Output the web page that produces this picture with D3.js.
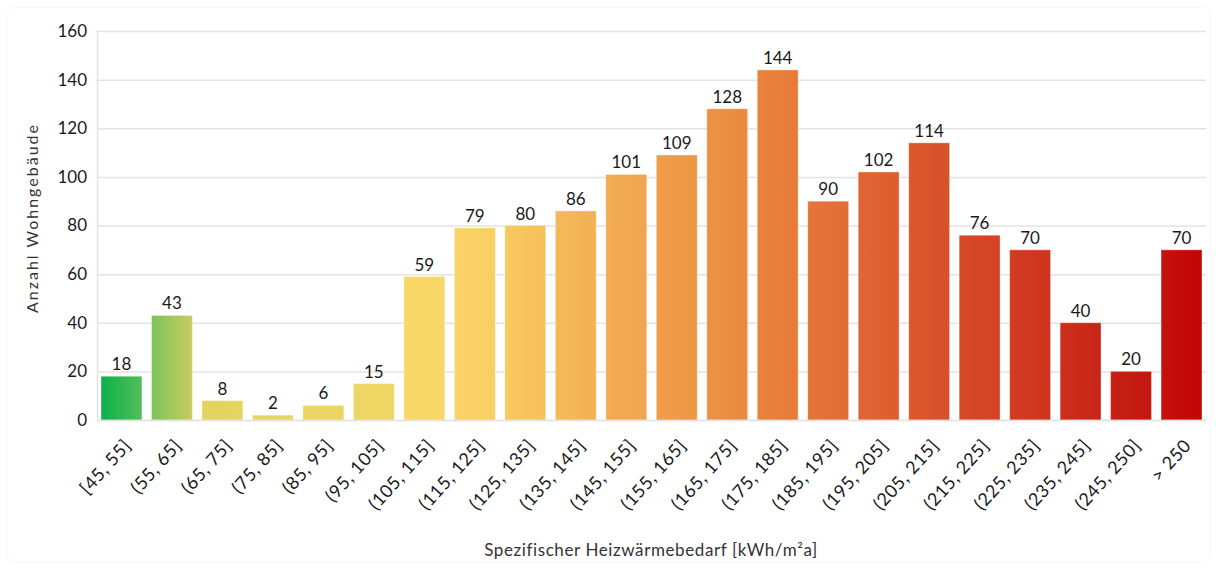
<!DOCTYPE html>
<html><head><meta charset="utf-8">
<script src="https://cdn.jsdelivr.net/npm/d3@7"></script>
<style>
html,body{margin:0;padding:0;background:#fff;}
text{font-family:Lato, "Open Sans", sans-serif;}
</style></head>
<body>
<svg id="chart" width="1216" height="569"></svg>
<script>
const categories = ["[45, 55]","(55, 65]","(65, 75]","(75, 85]","(85, 95]","(95, 105]","(105, 115]","(115, 125]","(125, 135]","(135, 145]","(145, 155]","(155, 165]","(165, 175]","(175, 185]","(185, 195]","(195, 205]","(205, 215]","(215, 225]","(225, 235]","(235, 245]","(245, 250]","> 250"];
const values = [18,43,8,2,6,15,59,79,80,86,101,109,128,144,90,102,114,76,70,40,20,70];
const colorLeft  = ["#0bb14a","#7dc45a","#e2d460","#e5d462","#e9d564","#eed664","#f8d866","#f9d466","#f8c860","#f4b95a","#f2ac52","#ef9e4a","#ec9244","#e9823d","#e47539","#e06534","#dc572d","#d74928","#d23c22","#cc2e1c","#c72014","#c5120c"];
const colorRight = ["#52be5a","#c8cc60","#e4d461","#e7d563","#ebd565","#f1d665","#f9d767","#f9cd63","#f7c05c","#f2b156","#f0a44e","#ed9646","#ea8940","#e77a3a","#e16d36","#dd5e30","#d7502a","#d34325","#cd341f","#c82618","#c31810","#c00507"];
const yTicks = [0,20,40,60,80,100,120,140,160];

const svg = d3.select("#chart");
// faint outer frame
svg.append("rect").attr("x",7.5).attr("y",7.5).attr("width",1203).attr("height",555)
  .attr("rx",6).attr("fill","none").attr("stroke","#f8f8f8").attr("stroke-width",1);

const x = d3.scaleBand().domain(categories).range([97,1206]).paddingInner(0.19).paddingOuter(0.08);
const y = d3.scaleLinear().domain([0,160]).range([420,31]);

const defs = svg.append("defs");
categories.forEach((c,i)=>{
  const g = defs.append("linearGradient").attr("id","g"+i).attr("x1","0%").attr("x2","100%").attr("y1","0%").attr("y2","0%");
  g.append("stop").attr("offset","0%").attr("stop-color",colorLeft[i]);
  g.append("stop").attr("offset","100%").attr("stop-color",colorRight[i]);
});

// gridlines
svg.append("g").selectAll("line").data(yTicks).join("line")
  .attr("x1",97).attr("x2",1206).attr("y1",d=>y(d)+0.5).attr("y2",d=>y(d)+0.5)
  .attr("stroke","#e3e3e3").attr("stroke-width",1.5);
// y axis line
svg.append("line").attr("x1",97.5).attr("x2",97.5).attr("y1",y(160)).attr("y2",y(0)).attr("stroke","#e3e3e3").attr("stroke-width",1.5);

// y tick labels
const yAxis = d3.axisLeft(y).tickValues(yTicks).tickSize(0).tickPadding(10);
const ya = svg.append("g").attr("transform","translate(97,0)").call(yAxis);
ya.select(".domain").remove();
ya.selectAll("text").attr("font-size",17).attr("fill","#1a1a1a").style("font-family","Lato, sans-serif");

// bars
svg.append("g").selectAll("rect").data(values).join("rect")
  .attr("x",(d,i)=>x(categories[i])).attr("width",x.bandwidth())
  .attr("y",d=>y(d)).attr("height",d=>y(0)-y(d))
  .attr("fill",(d,i)=>`url(#g${i})`)
  .attr("stroke","rgba(255,255,255,0.35)").attr("stroke-width",1);

// value labels
svg.append("g").selectAll("text").data(values).join("text")
  .attr("x",(d,i)=>x(categories[i])+x.bandwidth()/2).attr("y",d=>y(d)-6)
  .attr("text-anchor","middle").attr("font-size",17).attr("fill","#1a1a1a").text(d=>d);

// x axis
const xAxis = d3.axisBottom(x).tickSize(0).tickPadding(0);
const xa = svg.append("g").attr("transform","translate(0,420)").call(xAxis);
xa.select(".domain").attr("stroke","#e3e3e3").attr("stroke-width",1.5);
xa.selectAll("text").attr("font-size",18).attr("fill","#1a1a1a").style("letter-spacing","0.6px")
  .attr("text-anchor","end").attr("dy","0.35em")
  .attr("transform","translate(6,22) rotate(-48)").attr("y",0).attr("x",0);

// axis titles
svg.append("text").attr("transform","translate(38,218) rotate(-90)").attr("text-anchor","middle")
  .attr("font-size",16).style("letter-spacing","2px").attr("fill","#333").text("Anzahl Wohngebäude");
svg.append("text").attr("x",651).attr("y",556).attr("text-anchor","middle")
  .attr("font-size",17).style("letter-spacing","0.6px").attr("fill","#333").text("Spezifischer Heizwärmebedarf [kWh/m²a]");
</script>
</body></html>
